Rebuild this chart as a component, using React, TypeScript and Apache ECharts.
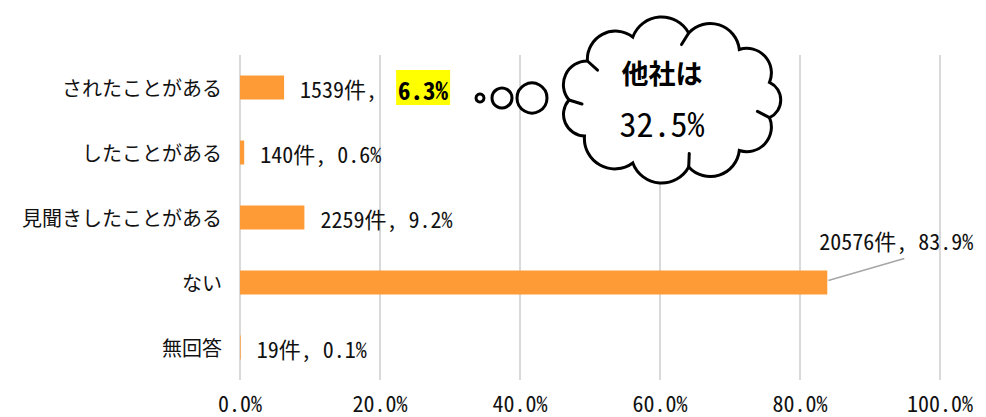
import React, { useEffect, useRef } from "react";
import * as echarts from "echarts";

const categories = ["されたことがある", "したことがある", "見聞きしたことがある", "ない", "無回答"];
const counts = [1539, 140, 2259, 20576, 19];
const percents = [6.3, 0.6, 9.2, 83.9, 0.1];
const highlightIndex = 0;
const calloutIndex = 3;
const cloudLines = ["他社は", "32.5%"];

const MONO = "'Noto Sans Mono CJK JP', 'DejaVu Sans Mono', monospace";
const CJK = "'Noto Sans CJK JP', sans-serif";

const CLOUD_C = [671, 100];
const CLOUD_R = [102, 68];
const CLOUD_ANGLES = [180, 215, 248, 280, 312, 345, 15, 48, 80, 112, 148];
const TICK_ANGLES = [180, 215, 280, 15, 80];

function ellPt(a: number) {
  return [CLOUD_C[0] + CLOUD_R[0] * Math.cos((a * Math.PI) / 180), CLOUD_C[1] + CLOUD_R[1] * Math.sin((a * Math.PI) / 180)];
}

function cloudPath() {
  const pts = CLOUD_ANGLES.map(ellPt);
  let d = `M${pts[0][0].toFixed(1)} ${pts[0][1].toFixed(1)}`;
  for (let i = 0; i < pts.length; i++) {
    const p = pts[i];
    const q = pts[(i + 1) % pts.length];
    const c = Math.hypot(q[0] - p[0], q[1] - p[1]);
    const r = c * 0.55;
    d += ` A${r.toFixed(1)} ${r.toFixed(1)} 0 0 1 ${q[0].toFixed(1)} ${q[1].toFixed(1)}`;
  }
  return d + " Z";
}

try {
  echarts.graphic.registerShape("cloud", echarts.graphic.extendPath(cloudPath(), {}) as any);
} catch (e) {}

function tickLines() {
  return TICK_ANGLES.map((a) => {
    const p = ellPt(a);
    const dx = CLOUD_C[0] - p[0];
    const dy = CLOUD_C[1] - p[1];
    const L = Math.hypot(dx, dy);
    const ux = dx / L, uy = dy / L;
    const vx = -uy, vy = ux;
    return {
      type: "line",
      z: 102,
      shape: { x1: p[0], y1: p[1], x2: p[0] + ux * 13 + vx * 4, y2: p[1] + uy * 13 + vy * 4 },
      style: { stroke: "#000", lineWidth: 3, lineCap: "round" },
    };
  });
}

export default function App() {
  const ref = useRef<HTMLDivElement>(null);
  useEffect(() => {
    const chart = echarts.init(ref.current!, null, { renderer: "svg" });
    chart.setOption({
      animation: false,
      backgroundColor: "#ffffff",
      grid: { left: 240, right: 46, top: 55, bottom: 37, containLabel: false },
      xAxis: {
        type: "value",
        min: 0,
        max: 100,
        interval: 20,
        axisLine: { show: false },
        axisTick: { show: false },
        splitLine: { show: true, lineStyle: { color: "#d9d9d9", width: 2 } },
        axisLabel: {
          margin: 11,
          fontFamily: MONO,
          fontSize: 22,
          color: "#111",
          formatter: (v: number) => v.toFixed(1) + "%",
        },
      },
      yAxis: {
        type: "category",
        inverse: true,
        data: categories,
        axisLine: { show: false },
        axisTick: { show: false },
        axisLabel: { margin: 18, fontFamily: CJK, fontSize: 20, color: "#111" },
      },
      series: [
        {
          type: "bar",
          data: percents,
          barWidth: 24,
          itemStyle: { color: "#FF9B37" },
          label: {
            show: true,
            position: "right",
            distance: 16,
            fontFamily: MONO,
            fontSize: 22,
            color: "#111",
            formatter: (p: any) => {
              const i = p.dataIndex;
              const pct = percents[i].toFixed(1) + "%";
              if (i === highlightIndex) return `{a|${counts[i]}件, }{h|${pct}}`;
              return `${counts[i]}件, ${pct}`;
            },
            rich: {
              a: { fontFamily: MONO, fontSize: 22, color: "#111", padding: [0, 8, 0, 0] },
              h: {
                fontFamily: MONO,
                fontSize: 25,
                lineHeight: 25,
                fontWeight: "bold",
                color: "#000",
                backgroundColor: "#FFFF00",
                padding: [6, 2, 4, 2],
              },
            },
          },
          labelLayout: (params: any) => (params.dataIndex === calloutIndex ? { dx: -24, dy: -43 } : {}),
        },
      ],
    });
    const end = chart.convertToPixel({ gridIndex: 0 }, [percents[calloutIndex], categories[calloutIndex]]) as number[];
    chart.setOption({
      graphic: [
        {
          type: "line",
          z: 100,
          shape: { x1: end[0] + 1, y1: end[1] - 2, x2: end[0] + 77, y2: end[1] - 24 },
          style: { stroke: "#a6a6a6", lineWidth: 1.5 },
        },
        { type: "circle", z: 100, shape: { cx: 480, cy: 98, r: 4 }, style: { fill: "#fff", stroke: "#000", lineWidth: 3 } },
        { type: "circle", z: 100, shape: { cx: 502, cy: 98, r: 10 }, style: { fill: "#fff", stroke: "#000", lineWidth: 3 } },
        { type: "circle", z: 100, shape: { cx: 532, cy: 98, r: 15 }, style: { fill: "#fff", stroke: "#000", lineWidth: 3 } },
        { type: "cloud", z: 100, x: 0, y: 0, style: { fill: "#fff", stroke: "#000", lineWidth: 3 } },
        ...tickLines(),
        {
          type: "text",
          z: 101,
          x: 662,
          y: 72,
          style: { text: cloudLines[0], fontFamily: CJK, fontSize: 27, fontWeight: "bold", fill: "#000", align: "center", verticalAlign: "middle" },
        },
        {
          type: "text",
          z: 101,
          x: 662,
          y: 122,
          style: { text: cloudLines[1], fontFamily: MONO, fontSize: 34, fill: "#000", align: "center", verticalAlign: "middle" },
        },
      ],
    });
    return () => chart.dispose();
  }, []);
  return <div ref={ref} style={{ position: "fixed", left: 0, top: 0, width: 986, height: 417 }} />;
}
